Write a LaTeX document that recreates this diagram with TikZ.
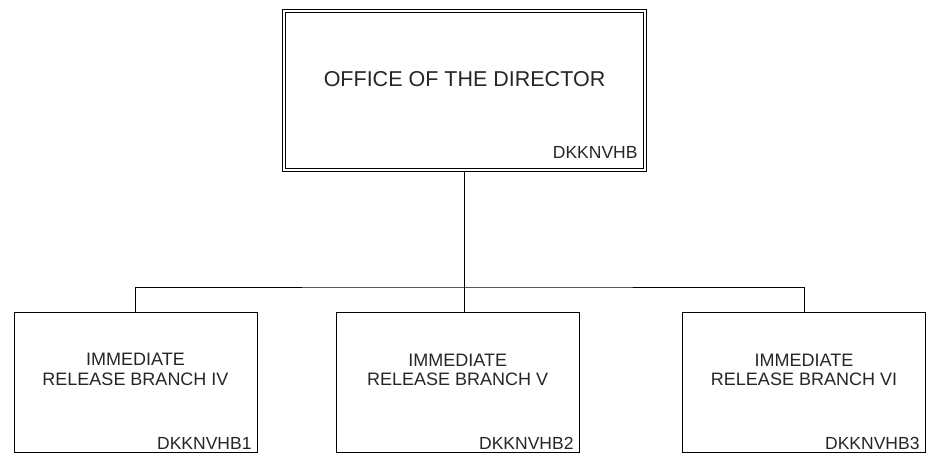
\documentclass[tikz,border=0pt]{standalone}
\usepackage{fontspec}
\setmainfont{Liberation Sans}
\begin{document}
\begin{tikzpicture}[x=1pt,y=-1pt,line width=1pt,
  unitbox/.style={draw=black,rectangle,inner sep=0pt,minimum width=243pt,minimum height=140pt},
  headbox/.style={draw=black,double,double distance=2.4pt,rectangle,inner sep=0pt,minimum width=361pt,minimum height=159pt},
  titletext/.style={inner sep=0pt,text=black!85,font=\fontsize{21.5}{24}\selectfont},
  unittext/.style={inner sep=0pt,text=black!85,align=center,font=\fontsize{18}{19.5}\selectfont},
  codetext/.style={inner sep=0pt,text=black!85,anchor=base east,font=\fontsize{17.5}{20}\selectfont},
  link/.style={draw=black,line width=1pt}]
\useasboundingbox (0,0) rectangle (931,459);
\fill[white] (0,0) rectangle (931,459);

\node[headbox] (dir) at (464.7,90.6) {};
\node[titletext] (dirname) at (464.5,79.5) {OFFICE OF THE DIRECTOR};
\node[codetext] (dircode) at (638,158) {DKKNVHB};

\node[unitbox] (b1) at (135.5,382) {};
\node[unitbox] (b2) at (457.7,382.5) {};
\node[unitbox] (b3) at (804,382.5) {};

\node[unittext] (t1) at (135.5,369.5) {IMMEDIATE\\RELEASE BRANCH IV};
\node[unittext] (t2) at (457.7,370) {IMMEDIATE\\RELEASE BRANCH V};
\node[unittext] (t3) at (804,370) {IMMEDIATE\\RELEASE BRANCH VI};

\node[codetext] (c1) at (252,449) {DKKNVHB1};
\node[codetext] (c2) at (574,449.5) {DKKNVHB2};
\node[codetext] (c3) at (920,449.5) {DKKNVHB3};

\coordinate (bus) at (464.7,287);
\draw[link] (dir.south) -- (dir.south |- b2.north);
\draw[link] (b1.north) |- (bus) -| (b3.north);
\end{tikzpicture}
\end{document}
